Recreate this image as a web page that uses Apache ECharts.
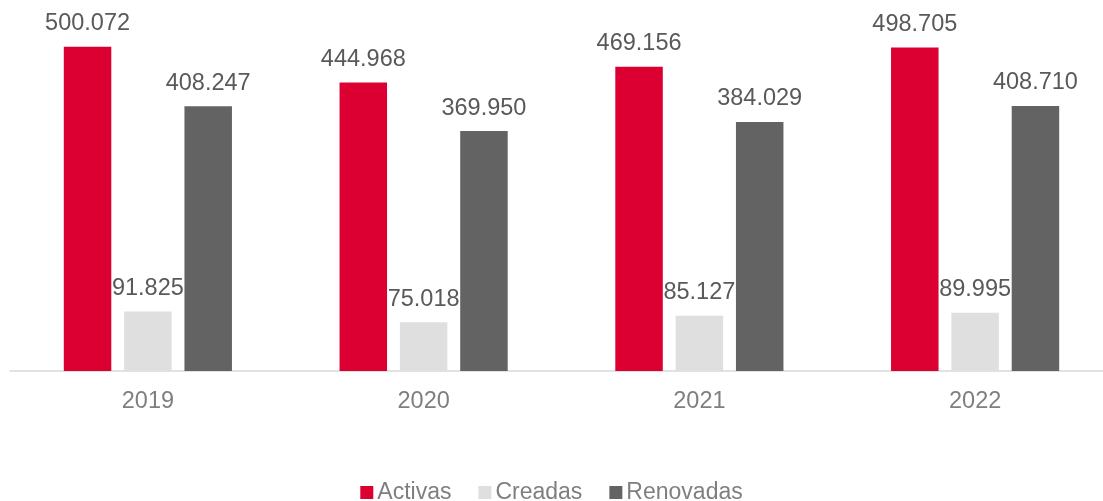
<!DOCTYPE html>
<html>
<head>
<meta charset="utf-8">
<script src="https://cdn.jsdelivr.net/npm/echarts@6/dist/echarts.min.js"></script>
<style>
  html, body { margin: 0; padding: 0; background: #fff; }
  #main { width: 1103px; height: 501px; }
</style>
</head>
<body>
<div id="main"></div>
<script>
// data
var years = ['2019', '2020', '2021', '2022'];
var activas = [500072, 444968, 469156, 498705];
var creadas = [91825, 75018, 85127, 89995];
var renovadas = [408247, 369950, 384029, 408710];

var myChart = echarts.init(document.getElementById('main'));

// thousands with a dot, like 500.072
function fmt(p) {
    return String(p.value).replace(/\B(?=(\d{3})+(?!\d))/g, '.');
}

var labelStyle = {
    show: true,
    position: 'top',
    distance: 11,
    formatter: fmt,
    color: '#595959',
    fontFamily: 'Liberation Sans, Arial, sans-serif',
    fontSize: 23.5
};

function bar(name, data, color) {
    return {
        name: name,
        type: 'bar',
        data: data,
        barWidth: 47.5,
        barGap: '27%',
        itemStyle: { color: color },
        label: labelStyle
    };
}

option = {
    backgroundColor: '#ffffff',
    animation: false,
    grid: {
        left: 10,
        width: 1103,
        top: 7.8,
        height: 363.2,
        outerBoundsMode: 'none'
    },
    legend: {
        top: 476,
        left: 'center',
        icon: 'rect',
        itemWidth: 13,
        itemHeight: 13,
        itemGap: 27,
        textStyle: {
            color: '#7f7f7f',
            fontFamily: 'Liberation Sans, Arial, sans-serif',
            fontSize: 23,
            padding: [0, 0, 0, -1]
        },
        data: ['Activas', 'Creadas', 'Renovadas']
    },
    xAxis: {
        type: 'category',
        data: years,
        axisTick: { show: false },
        axisLine: { lineStyle: { color: '#d9d9d9', width: 1.5 } },
        axisLabel: {
            margin: 19,
            color: '#7f7f7f',
            fontFamily: 'Liberation Sans, Arial, sans-serif',
            fontSize: 23.5
        }
    },
    yAxis: {
        type: 'value',
        min: 0,
        max: 560000,
        show: false,
        splitLine: { show: false }
    },
    series: [
        bar('Activas', activas, '#dc0032'),
        bar('Creadas', creadas, '#dfdfdf'),
        bar('Renovadas', renovadas, '#636363')
    ]
};

myChart.setOption(option);
</script>
</body>
</html>
